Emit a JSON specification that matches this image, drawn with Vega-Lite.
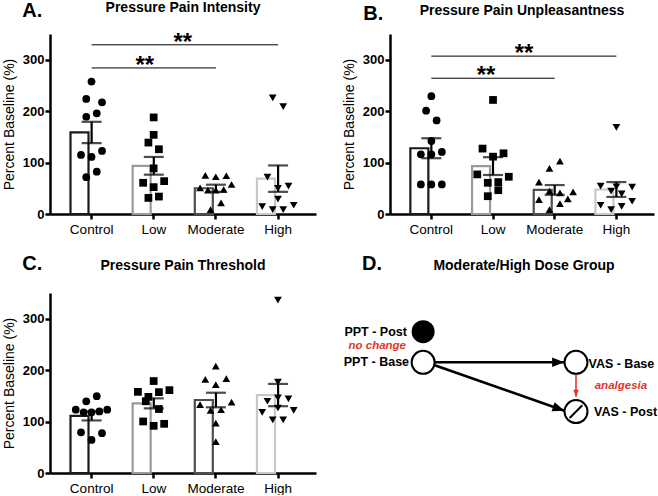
{
"$schema":"https://vega.github.io/schema/vega-lite/v6.json",
"background":"white",
"padding":{"left":2,"top":0,"right":0,"bottom":0},
"datasets":{
"A":[
{"g":"Control","v":257.6,"col":0},{"g":"Control","v":223.7,"col":-1},{"g":"Control","v":217.2,"col":2},{"g":"Control","v":189.1,"col":-1},{"g":"Control","v":195.7,"col":1},{"g":"Control","v":122.6,"col":2},{"g":"Control","v":114.8,"col":-2},{"g":"Control","v":110.9,"col":0},{"g":"Control","v":71.7,"col":-1},{"g":"Control","v":82.2,"col":1},
{"g":"Low","v":187.8,"col":0},{"g":"Low","v":153.9,"col":0},{"g":"Low","v":138.9,"col":-1},{"g":"Low","v":125.9,"col":1},{"g":"Low","v":88.7,"col":0},{"g":"Low","v":60.7,"col":-2},{"g":"Low","v":63.9,"col":2},{"g":"Low","v":52.2,"col":0},{"g":"Low","v":31.3,"col":-1},{"g":"Low","v":33.9,"col":1},
{"g":"Moderate","v":75,"col":-2},{"g":"Moderate","v":72.4,"col":0},{"g":"Moderate","v":74.4,"col":2},{"g":"Moderate","v":51,"col":-3},{"g":"Moderate","v":46.3,"col":-1.5},{"g":"Moderate","v":46.3,"col":0},{"g":"Moderate","v":47.6,"col":1.5},{"g":"Moderate","v":57.4,"col":3},{"g":"Moderate","v":21.5,"col":1},{"g":"Moderate","v":8.5,"col":-1},
{"g":"High","v":225.7,"col":-1},{"g":"High","v":208.7,"col":1},{"g":"High","v":71.8,"col":-2},{"g":"High","v":54.1,"col":2},{"g":"High","v":50,"col":0},{"g":"High","v":29,"col":0},{"g":"High","v":14.4,"col":-3},{"g":"High","v":8.5,"col":-1},{"g":"High","v":8.5,"col":1},{"g":"High","v":17,"col":3}
],
"B":[
{"g":"Control","v":229,"col":0},{"g":"Control","v":201,"col":-1},{"g":"Control","v":182,"col":1},{"g":"Control","v":142,"col":0},{"g":"Control","v":116,"col":-2},{"g":"Control","v":116,"col":0},{"g":"Control","v":120.7,"col":2},{"g":"Control","v":57.4,"col":-2},{"g":"Control","v":57.4,"col":0},{"g":"Control","v":57.4,"col":2},
{"g":"Low","v":221.8,"col":0},{"g":"Low","v":127.2,"col":-2},{"g":"Low","v":118,"col":2},{"g":"Low","v":111.5,"col":0},{"g":"Low","v":77,"col":-3},{"g":"Low","v":72.4,"col":3},{"g":"Low","v":60.7,"col":-1},{"g":"Low","v":62,"col":1},{"g":"Low","v":46.3,"col":1},{"g":"Low","v":34.6,"col":-1},
{"g":"Moderate","v":103,"col":1},{"g":"Moderate","v":88.7,"col":-1},{"g":"Moderate","v":62,"col":-3},{"g":"Moderate","v":44.4,"col":-1},{"g":"Moderate","v":41,"col":1},{"g":"Moderate","v":43,"col":3.5},{"g":"Moderate","v":29.4,"col":2.5},{"g":"Moderate","v":28,"col":-3},{"g":"Moderate","v":20.2,"col":1},{"g":"Moderate","v":8.5,"col":-1},
{"g":"High","v":168.3,"col":0},{"g":"High","v":54.1,"col":-3},{"g":"High","v":52.2,"col":3},{"g":"High","v":44.4,"col":-1},{"g":"High","v":39.1,"col":1},{"g":"High","v":53,"col":0},{"g":"High","v":24.8,"col":3},{"g":"High","v":17,"col":-3},{"g":"High","v":8.5,"col":-1},{"g":"High","v":15,"col":1}
],
"C":[
{"g":"Control","v":139.5,"col":-1},{"g":"Control","v":149.3,"col":1},{"g":"Control","v":123,"col":-3},{"g":"Control","v":117.9,"col":-1.5},{"g":"Control","v":117.9,"col":0},{"g":"Control","v":119.8,"col":1.5},{"g":"Control","v":123,"col":3},{"g":"Control","v":79.2,"col":-2},{"g":"Control","v":77.3,"col":2},{"g":"Control","v":64.2,"col":0},
{"g":"Low","v":178.8,"col":0},{"g":"Low","v":157.8,"col":-3},{"g":"Low","v":161.1,"col":3},{"g":"Low","v":157.2,"col":1},{"g":"Low","v":148,"col":-1},{"g":"Low","v":139.5,"col":-1.5},{"g":"Low","v":124.4,"col":1},{"g":"Low","v":100.2,"col":-2},{"g":"Low","v":91.7,"col":0},{"g":"Low","v":95.6,"col":2},
{"g":"Moderate","v":208,"col":0},{"g":"Moderate","v":182,"col":-2},{"g":"Moderate","v":172,"col":0},{"g":"Moderate","v":183.4,"col":2},{"g":"Moderate","v":133,"col":-3},{"g":"Moderate","v":138,"col":3},{"g":"Moderate","v":121.8,"col":-1},{"g":"Moderate","v":123,"col":1},{"g":"Moderate","v":97,"col":0},{"g":"Moderate","v":61,"col":0},
{"g":"High","v":336,"col":0},{"g":"High","v":176.8,"col":0},{"g":"High","v":139.5,"col":-2},{"g":"High","v":146,"col":0},{"g":"High","v":144,"col":2},{"g":"High","v":117.9,"col":-3},{"g":"High","v":126.4,"col":0},{"g":"High","v":121.8,"col":3},{"g":"High","v":103.5,"col":-1},{"g":"High","v":103.5,"col":1}
],
"sigA":[{"from":"Control","to":"High","y":329,"pos":"upper"},{"from":"Control","to":"Moderate","y":284,"pos":"lower"}],
"sigB":[{"from":"Control","to":"High","y":307,"pos":"upper"},{"from":"Control","to":"Moderate","y":264,"pos":"lower"}],
"nodes":[{"node":"PPT - Post","gx":26,"gy":78.5,"filled":true},{"node":"PPT - Base","gx":26,"gy":61.5,"filled":false},{"node":"VAS - Base","gx":75,"gy":61.5,"filled":false},{"node":"VAS - Post","gx":75,"gy":34.1,"filled":false}],
"edges":[{"edge":"base","x1":29.5,"y1":61.5,"x2":71.2,"y2":61.5},{"edge":"diag","x1":29.5,"y1":60,"x2":71.3,"y2":34.6},{"edge":"red","x1":75,"y1":54.4,"x2":75,"y2":42.4}],
"labels":[{"text":"PPT - Post","gx":20.8,"gy":78.5,"kind":"left"},{"text":"PPT - Base","gx":21.5,"gy":61.8,"kind":"left"},{"text":"VAS - Base","gx":79,"gy":60.6,"kind":"right"},{"text":"VAS - Post","gx":80.8,"gy":33.7,"kind":"right"},{"text":"no change","gx":11.3,"gy":70.6,"kind":"note"},{"text":"analgesia","gx":89.4,"gy":48.5,"kind":"note"}]
},
"config":{
"font":"Liberation Sans",
"view":{"stroke":null},
"axis":{"domainColor":"black","domainWidth":2.5,"tickColor":"black","tickWidth":2.5,"grid":false,"labelColor":"black","titleColor":"black","labelFont":"Liberation Sans","titleFont":"Liberation Sans"},
"axisY":{"tickSize":5,"labelFontSize":13,"labelFontWeight":"bold","labelPadding":1,"titleFontSize":14,"titleFontWeight":"normal","titlePadding":6},
"axisX":{"tickSize":5,"labelFontSize":13.5,"labelAngle":0,"labelPadding":3},
"title":{"font":"Liberation Sans","fontSize":14,"fontWeight":"bold","color":"black","baseline":"alphabetic","anchor":"middle","offset":20}
},
"spacing":18,
"vconcat":[
{"spacing":26,"hconcat":[
{"title":{"text":"A.","anchor":"start","frame":"bounds","fontSize":20,"offset":-19.5,"dx":20},
 "vconcat":[{"width":266,"height":180,"title":{"text":"Pressure Pain Intensity","offset":15.7},
 "layer":[
 {"data":{"name":"A"},"mark":{"type":"bar","fill":"white","strokeWidth":2.2},
  "encoding":{"x":{"field":"g","type":"nominal","title":null,"scale":{"domain":["Control","Low","Moderate","High"],"paddingInner":0.32,"paddingOuter":0.3,"align":0.55}},
   "y":{"aggregate":"mean","field":"v","type":"quantitative","title":"Percent Baseline (%)","scale":{"domain":[0,350],"nice":false},"axis":{"values":[0,50,100,150,200,250,300],"labelExpr":"datum.value % 100 == 0 ? datum.label : ''"}},
   "stroke":{"field":"g","type":"nominal","scale":{"domain":["Control","Low","Moderate","High"],"range":["#1a1a1a","#9a9a9a","#4d4d4d","#c8c8c8"]},"legend":null}}},
 {"data":{"name":"A"},"mark":{"type":"errorbar","extent":"stderr","ticks":true,"size":20,"thickness":2.2,"color":"black"},
  "encoding":{"x":{"field":"g","type":"nominal","title":null},"y":{"field":"v","type":"quantitative","title":"Percent Baseline (%)"}}},
 {"data":{"name":"A"},"mark":{"type":"point","filled":true,"color":"black","size":60,"opacity":1},
  "encoding":{"x":{"field":"g","type":"nominal","title":null},"xOffset":{"field":"col","type":"quantitative","scale":{"domain":[-4,4],"range":[0,42]}},"y":{"field":"v","type":"quantitative","title":"Percent Baseline (%)"},
   "shape":{"field":"g","type":"nominal","scale":{"domain":["Control","Low","Moderate","High"],"range":["circle","square","triangle-up","triangle-down"]},"legend":null}}},
 {"data":{"name":"sigA"},"mark":{"type":"rule","color":"black","strokeWidth":1},
  "encoding":{"x":{"field":"from","type":"nominal","title":null},"x2":{"field":"to"},"y":{"field":"y","type":"quantitative","title":"Percent Baseline (%)"}}},
 {"data":{"name":"sigA"},"transform":[{"filter":"datum.pos=='upper'"}],"mark":{"type":"text","text":"**","fontSize":24,"fontWeight":"bold","baseline":"alphabetic","dx":29,"dy":5},
  "encoding":{"x":{"datum":"Low","type":"nominal","title":null},"y":{"field":"y","type":"quantitative","title":"Percent Baseline (%)"}}},
 {"data":{"name":"sigA"},"transform":[{"filter":"datum.pos=='lower'"}],"mark":{"type":"text","text":"**","fontSize":24,"fontWeight":"bold","baseline":"alphabetic","dx":-9,"dy":5},
  "encoding":{"x":{"datum":"Low","type":"nominal","title":null},"y":{"field":"y","type":"quantitative","title":"Percent Baseline (%)"}}}
 ]}]},
{"title":{"text":"B.","anchor":"start","frame":"bounds","fontSize":20,"offset":-19.5,"dx":21},
 "vconcat":[{"width":264,"height":180,"title":{"text":"Pressure Pain Unpleasantness","offset":15.7},
 "layer":[
 {"data":{"name":"B"},"mark":{"type":"bar","fill":"white","strokeWidth":2.2},
  "encoding":{"x":{"field":"g","type":"nominal","title":null,"scale":{"domain":["Control","Low","Moderate","High"],"paddingInner":0.32,"paddingOuter":0.3,"align":0.55}},
   "y":{"aggregate":"mean","field":"v","type":"quantitative","title":"Percent Baseline (%)","scale":{"domain":[0,350],"nice":false},"axis":{"values":[0,50,100,150,200,250,300],"labelExpr":"datum.value % 100 == 0 ? datum.label : ''"}},
   "stroke":{"field":"g","type":"nominal","scale":{"domain":["Control","Low","Moderate","High"],"range":["#1a1a1a","#9a9a9a","#4d4d4d","#c8c8c8"]},"legend":null}}},
 {"data":{"name":"B"},"mark":{"type":"errorbar","extent":"stderr","ticks":true,"size":20,"thickness":2.2,"color":"black"},
  "encoding":{"x":{"field":"g","type":"nominal","title":null},"y":{"field":"v","type":"quantitative","title":"Percent Baseline (%)"}}},
 {"data":{"name":"B"},"mark":{"type":"point","filled":true,"color":"black","size":60,"opacity":1},
  "encoding":{"x":{"field":"g","type":"nominal","title":null},"xOffset":{"field":"col","type":"quantitative","scale":{"domain":[-4,4],"range":[0,42]}},"y":{"field":"v","type":"quantitative","title":"Percent Baseline (%)"},
   "shape":{"field":"g","type":"nominal","scale":{"domain":["Control","Low","Moderate","High"],"range":["circle","square","triangle-up","triangle-down"]},"legend":null}}},
 {"data":{"name":"sigB"},"mark":{"type":"rule","color":"black","strokeWidth":1},
  "encoding":{"x":{"field":"from","type":"nominal","title":null},"x2":{"field":"to"},"y":{"field":"y","type":"quantitative","title":"Percent Baseline (%)"}}},
 {"data":{"name":"sigB"},"transform":[{"filter":"datum.pos=='upper'"}],"mark":{"type":"text","text":"**","fontSize":24,"fontWeight":"bold","baseline":"alphabetic","dx":31,"dy":5},
  "encoding":{"x":{"datum":"Low","type":"nominal","title":null},"y":{"field":"y","type":"quantitative","title":"Percent Baseline (%)"}}},
 {"data":{"name":"sigB"},"transform":[{"filter":"datum.pos=='lower'"}],"mark":{"type":"text","text":"**","fontSize":24,"fontWeight":"bold","baseline":"alphabetic","dx":-7,"dy":5},
  "encoding":{"x":{"datum":"Low","type":"nominal","title":null},"y":{"field":"y","type":"quantitative","title":"Percent Baseline (%)"}}}
 ]}]}
]},
{"spacing":26,"hconcat":[
{"title":{"text":"C.","anchor":"start","frame":"bounds","fontSize":20,"offset":-15,"dx":20},
 "vconcat":[{"width":266,"height":180,"title":"Pressure Pain Threshold",
 "layer":[
 {"data":{"name":"C"},"mark":{"type":"bar","fill":"white","strokeWidth":2.2},
  "encoding":{"x":{"field":"g","type":"nominal","title":null,"scale":{"domain":["Control","Low","Moderate","High"],"paddingInner":0.32,"paddingOuter":0.3,"align":0.55}},
   "y":{"aggregate":"mean","field":"v","type":"quantitative","title":"Percent Baseline (%)","scale":{"domain":[0,350],"nice":false},"axis":{"values":[0,50,100,150,200,250,300],"labelExpr":"datum.value % 100 == 0 ? datum.label : ''"}},
   "stroke":{"field":"g","type":"nominal","scale":{"domain":["Control","Low","Moderate","High"],"range":["#1a1a1a","#9a9a9a","#4d4d4d","#c8c8c8"]},"legend":null}}},
 {"data":{"name":"C"},"mark":{"type":"errorbar","extent":"stderr","ticks":true,"size":20,"thickness":2.2,"color":"black"},
  "encoding":{"x":{"field":"g","type":"nominal","title":null},"y":{"field":"v","type":"quantitative","title":"Percent Baseline (%)"}}},
 {"data":{"name":"C"},"mark":{"type":"point","filled":true,"color":"black","size":60,"opacity":1},
  "encoding":{"x":{"field":"g","type":"nominal","title":null},"xOffset":{"field":"col","type":"quantitative","scale":{"domain":[-4,4],"range":[0,42]}},"y":{"field":"v","type":"quantitative","title":"Percent Baseline (%)"},
   "shape":{"field":"g","type":"nominal","scale":{"domain":["Control","Low","Moderate","High"],"range":["circle","square","triangle-up","triangle-down"]},"legend":null}}}
 ]}]},
{"title":{"text":"D.","anchor":"start","frame":"bounds","fontSize":20,"offset":-15,"dx":20},
 "vconcat":[{"width":312,"height":180,"title":{"text":"Moderate/High Dose Group","dx":26},
 "encoding":{"x":{"field":"gx","type":"quantitative","scale":{"domain":[0,100]},"axis":null},"y":{"field":"gy","type":"quantitative","scale":{"domain":[0,100]},"axis":null}},
 "layer":[
 {"data":{"name":"edges"},"transform":[{"filter":"datum.edge!='red'"}],"mark":{"type":"rule","color":"black","strokeWidth":2.6},
  "encoding":{"x":{"field":"x1","type":"quantitative"},"y":{"field":"y1","type":"quantitative"},"x2":{"field":"x2"},"y2":{"field":"y2"}}},
 {"data":{"name":"edges"},"transform":[{"filter":"datum.edge=='red'"}],"mark":{"type":"rule","color":"#e0352b","strokeWidth":1.6},
  "encoding":{"x":{"field":"x1","type":"quantitative"},"y":{"field":"y1","type":"quantitative"},"x2":{"field":"x2"},"y2":{"field":"y2"}}},
 {"data":{"name":"edges"},"transform":[{"filter":"datum.edge=='base'"}],"mark":{"type":"point","shape":"M0,0L-2,-0.8L-2,0.8Z","filled":true,"color":"black","opacity":1,"size":144,"angle":0},
  "encoding":{"x":{"field":"x2","type":"quantitative"},"y":{"field":"y2","type":"quantitative"}}},
 {"data":{"name":"edges"},"transform":[{"filter":"datum.edge=='diag'"}],"mark":{"type":"point","shape":"M0,0L-2,-0.8L-2,0.8Z","filled":true,"color":"black","opacity":1,"size":144,"angle":19},
  "encoding":{"x":{"field":"x2","type":"quantitative"},"y":{"field":"y2","type":"quantitative"}}},
 {"data":{"name":"edges"},"transform":[{"filter":"datum.edge=='red'"}],"mark":{"type":"point","shape":"M0,0L-2,-0.8L-2,0.8Z","filled":true,"color":"#e0352b","opacity":1,"size":49,"angle":90},
  "encoding":{"x":{"field":"x2","type":"quantitative"},"y":{"field":"y2","type":"quantitative"}}},
 {"data":{"name":"nodes"},"transform":[{"filter":"!datum.filled"}],"mark":{"type":"point","shape":"circle","fill":"white","stroke":"black","strokeWidth":2,"opacity":1,"size":529}},
 {"data":{"name":"nodes"},"transform":[{"filter":"datum.filled"}],"mark":{"type":"point","shape":"circle","filled":true,"color":"black","opacity":1,"size":529}},
 {"data":{"name":"nodes"},"transform":[{"filter":"datum.node=='VAS - Post'"}],"mark":{"type":"point","shape":"M-0.55,0.55L0.55,-0.55","fill":null,"stroke":"black","strokeWidth":2,"opacity":1,"size":529}},
 {"data":{"name":"labels"},"transform":[{"filter":"datum.kind=='left'"}],"mark":{"type":"text","align":"right","baseline":"middle","fontSize":12.5,"fontWeight":"bold","color":"black"},"encoding":{"text":{"field":"text"}}},
 {"data":{"name":"labels"},"transform":[{"filter":"datum.kind=='right'"}],"mark":{"type":"text","align":"left","baseline":"middle","fontSize":12.5,"fontWeight":"bold","color":"black"},"encoding":{"text":{"field":"text"}}},
 {"data":{"name":"labels"},"transform":[{"filter":"datum.kind=='note'"}],"mark":{"type":"text","align":"center","baseline":"middle","fontSize":11.5,"fontWeight":"bold","fontStyle":"italic","color":"#e0352b"},"encoding":{"text":{"field":"text"}}}
 ]}]}
]}
]
}
